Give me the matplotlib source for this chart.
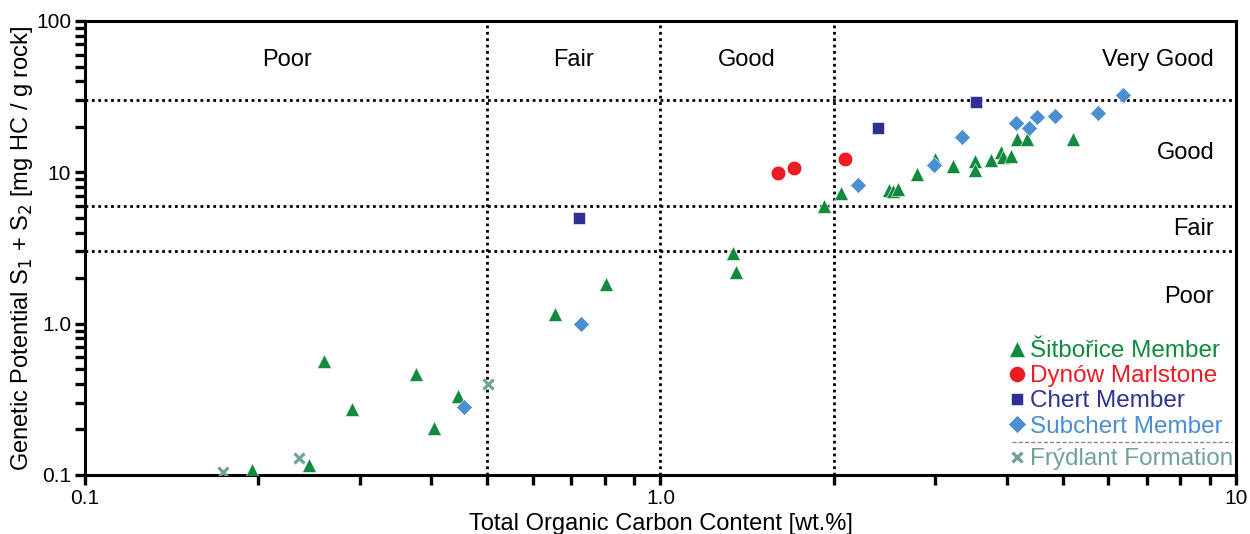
import matplotlib
matplotlib.use("Agg")
import matplotlib.pyplot as plt
from matplotlib.ticker import FixedLocator, FixedFormatter, LogLocator, NullFormatter

plt.rcParams["font.family"] = ["Liberation Sans", "DejaVu Sans"]

# TOC [wt.%] and S1+S2 [mg HC / g rock]
sit_x = [0.195, 0.2455, 0.26, 0.291, 0.376, 0.404, 0.444, 0.655, 0.804, 1.336,
         1.35, 1.92, 2.06, 2.49, 2.54, 2.59, 2.79, 3.0, 3.22, 3.52, 3.52, 3.75,
         3.91, 3.94, 4.07, 4.17, 4.34, 5.21]
sit_y = [0.108, 0.116, 0.569, 0.272, 0.465, 0.204, 0.333, 1.16, 1.83, 2.92,
         2.18, 5.96, 7.3, 7.6, 7.5, 7.8, 9.8, 12.3, 10.96, 11.9, 10.3, 12.1,
         13.6, 12.6, 12.8, 16.7, 16.5, 16.7]
dyn_x = [1.60, 1.705, 2.09]
dyn_y = [9.95, 10.7, 12.3]
chert_x = [0.721, 2.39, 3.54]
chert_y = [5.01, 19.5, 29.3]
sub_x = [0.456, 0.727, 2.20, 2.99, 3.34, 4.14, 4.37, 4.51, 4.84, 5.75, 6.37]
sub_y = [0.283, 1.0, 8.2, 11.1, 17.1, 21.3, 19.5, 23.2, 23.6, 24.8, 32.4]
fry_x = [0.1735, 0.235, 0.501]
fry_y = [0.105, 0.129, 0.399]

toc_limits = [0.5, 1.0, 2.0]
gp_limits = [3, 6, 30]

x_ticks = [0.1, 1.0, 10]
x_tick_labels = ["0.1", "1.0", "10"]
y_ticks = [0.1, 1.0, 10, 100]
y_tick_labels = ["0.1", "1.0", "10", "100"]

green = "#118a3e"
red = "#ec1c24"
navy = "#2e3192"
lblue = "#4a8fd1"
grey = "#72a19d"

fig = plt.figure(figsize=(12.5, 5.34), dpi=100)
ax = fig.add_axes([0.068, 0.1105, 0.9208, 0.8502])
ax.set_xscale("log")
ax.set_yscale("log")
ax.set_xlim(0.1, 10)
ax.set_ylim(0.1, 100)

dots = dict(color="black", lw=2.0, linestyle=(0, (1, 1.3)), zorder=1)
for v in toc_limits:
    ax.axvline(v, **dots)
for v in gp_limits:
    ax.axhline(v, **dots)

h1, = ax.plot(sit_x, sit_y, "^", color=green, ms=10, mec="white", mew=0.4,
              ls="none", label="Šitbořice Member", zorder=3)
h2, = ax.plot(dyn_x, dyn_y, "o", color=red, ms=10.5, mec="white", mew=0.4,
              ls="none", label="Dynów Marlstone", zorder=3)
h3, = ax.plot(chert_x, chert_y, "s", color=navy, ms=8.5, mec="white", mew=0.4,
              ls="none", label="Chert Member", zorder=3)
h4, = ax.plot(sub_x, sub_y, "D", color=lblue, ms=8, mec="white", mew=0.4,
              ls="none", label="Subchert Member", zorder=4)
h5, = ax.plot(fry_x, fry_y, "x", color=grey, ms=7, mew=2.3,
              ls="none", label="Frýdlant Formation", zorder=4)

# class labels
lab = dict(fontsize=17, ha="center", va="center")
ax.text(0.224, 55, "Poor", **lab)
ax.text(0.707, 55, "Fair", **lab)
ax.text(1.414, 55, "Good", **lab)
ax.text(0.981, 55, "Very Good", transform=ax.get_yaxis_transform(),
        fontsize=17, ha="right", va="center")
ax.text(0.981, 13.4, "Good", transform=ax.get_yaxis_transform(),
        fontsize=17, ha="right", va="center")
ax.text(0.981, 4.24, "Fair", transform=ax.get_yaxis_transform(),
        fontsize=17, ha="right", va="center")
ax.text(0.981, 1.49, "Poor", transform=ax.get_yaxis_transform(),
        fontsize=17, ha="right", va="center")

leg_kw = dict(frameon=False, fontsize=17.5, handlelength=0.7, handletextpad=0.2,
              borderpad=0, borderaxespad=0, labelspacing=0.13, markerscale=1.1)
leg1 = ax.legend(handles=[h1, h2, h3, h4], loc="upper left",
                 bbox_to_anchor=(1008 / 1250, 1 - 340 / 534),
                 bbox_transform=fig.transFigure, **leg_kw)
for t, c in zip(leg1.get_texts(), [green, red, navy, lblue]):
    t.set_color(c)
ax.add_artist(leg1)
leg2 = ax.legend(handles=[h5], loc="upper left",
                 bbox_to_anchor=(1008 / 1250, 1 - 448 / 534),
                 bbox_transform=fig.transFigure, **leg_kw)
leg2.get_texts()[0].set_color(grey)
ax.plot([0.805, 0.9965], [0.0727, 0.0727], transform=ax.transAxes,
        color="#8a8a8a", lw=1.0, ls=(0, (3, 1.5)), clip_on=False, zorder=5)

ax.xaxis.set_major_locator(FixedLocator(x_ticks))
ax.xaxis.set_major_formatter(FixedFormatter(x_tick_labels))
ax.yaxis.set_major_locator(FixedLocator(y_ticks))
ax.yaxis.set_major_formatter(FixedFormatter(y_tick_labels))
ax.xaxis.set_minor_locator(LogLocator(base=10, subs=range(2, 10)))
ax.yaxis.set_minor_locator(LogLocator(base=10, subs=range(2, 10)))
ax.xaxis.set_minor_formatter(NullFormatter())
ax.yaxis.set_minor_formatter(NullFormatter())
ax.tick_params(which="both", direction="out", width=2.4, length=7,
               labelsize=15, pad=3)
for s in ax.spines.values():
    s.set_linewidth(2.2)

ax.set_xlabel("Total Organic Carbon Content [wt.%]", fontsize=17, labelpad=4)
ax.set_ylabel("Genetic Potential S$_1$ + S$_2$ [mg HC / g rock]", fontsize=17,
              labelpad=1)

fig.savefig("out.png", dpi=100)
